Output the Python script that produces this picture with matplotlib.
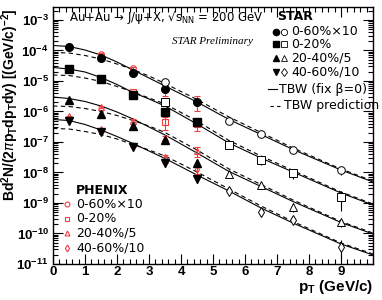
"""J/psi spectra in Au+Au at 200 GeV: STAR and PHENIX vs TBW fits."""

import matplotlib
matplotlib.use("Agg")
import matplotlib.pyplot as plt
import numpy as np
from matplotlib.ticker import MultipleLocator, LogLocator, NullFormatter

plt.rcParams["mathtext.fontset"] = "custom"
plt.rcParams["mathtext.rm"] = "Liberation Sans:bold"
plt.rcParams["mathtext.bf"] = "Liberation Sans:bold"
plt.rcParams["mathtext.sf"] = "DejaVu Sans"

# STAR low pT (filled markers)
pt_low = [0.5, 1.5, 2.5, 3.5, 4.5]
star_low = {
    "c": [1.33e-4, 5.5e-5, 1.87e-5, 5.6e-6, 2.1e-6],
    "s": [2.4e-5, 1.15e-5, 3.5e-6, 9.8e-7, 4.4e-7],
    "t": [2.4e-6, 8.3e-7, 3.3e-7, 1.17e-7, 2.1e-8],
    "v": [4.7e-7, 2.1e-7, 7.1e-8, 2.1e-8, 6.0e-9],
}
star_low_err = {
    "c": [0.08, 0.08, 0.1, 0.15, 0.15],
    "s": [0.08, 0.08, 0.1, 0.15, 0.2],
    "t": [0.1, 0.1, 0.15, 0.2, 0.3],
    "v": [0.1, 0.1, 0.15, 0.3, 0.25],
}

# STAR high pT (open markers)
pt_high_cs = [3.5, 5.5, 6.5, 7.5, 9.0]
pt_high_td = [5.5, 6.5, 7.5, 9.0]
star_high = {
    "c": [9.5e-6, 5.0e-7, 1.8e-7, 5.5e-8, 1.2e-8],
    "s": [2.1e-6, 8.0e-8, 2.6e-8, 9.4e-9, 1.55e-9],
    "t": [8.9e-9, 3.9e-9, 7.6e-10, 2.45e-10],
    "d": [2.5e-9, 5.0e-10, 2.8e-10, 3.7e-11],
}
star_high_err = {
    "c": [0.1, 0.1, 0.1, 0.15, 0.3],
    "s": [0.1, 0.15, 0.3, 0.35, 0.65],
    "t": [0.15, 0.15, 0.35, 0.35],
    "d": [0.15, 0.25, 0.2, 0.6],
}

# PHENIX (red open markers)
pt_phx = [1.5, 2.5, 3.5, 4.5]
pt_phx_d = [0.5, 1.5, 2.5, 3.5, 4.5]
phenix = {
    "c": [7.6e-5, 2.6e-5, 5.0e-6, 2.1e-6],
    "s": [1.3e-5, 4.2e-6, 4.4e-7, 3.9e-7],
    "t": [1.4e-6, 5.0e-7, 1.35e-7, 5.0e-8],
    "d": [6.5e-7, 2.4e-7, 7.6e-8, 2.9e-8, 1.3e-8],
}
phenix_err = {
    "c": [0.1, 0.1, 0.35, 0.5],
    "s": [0.1, 0.1, 0.45, 0.4],
    "t": [0.1, 0.1, 0.2, 0.35],
    "d": [0.1, 0.1, 0.1, 0.3, 0.3],
}

# TBW curves, log10 values
pt_curve = [0, 0.5, 1, 1.5, 2, 2.5, 3, 3.5, 4.5, 5.5, 6.5, 7.5, 9, 10]
tbw_fix_log = {
    "c": [-3.836, -3.869, -3.984, -4.148, -4.377, -4.639, -4.902, -5.164,
          -5.689, -6.262, -6.754, -7.246, -7.918, -8.311],
    "s": [-4.557, -4.607, -4.705, -4.885, -5.115, -5.377, -5.590, -5.820,
          -6.410, -7.033, -7.525, -7.984, -8.672, -9.066],
    "t": [-5.525, -5.574, -5.672, -5.820, -6.016, -6.246, -6.508, -6.770,
          -7.361, -7.967, -8.459, -8.951, -9.639, -10.016],
    "d": [-6.262, -6.295, -6.426, -6.607, -6.820, -7.049, -7.295, -7.541,
          -8.082, -8.607, -9.164, -9.656, -10.344, -10.705],
}
tbw_pred_log = {
    "c": [-4.066, -4.082, -4.164, -4.279, -4.443, -4.623, -4.836, -5.082,
          -5.607, -6.180, -6.689, -7.197, -7.885, -8.279],
    "s": [-4.803, -4.820, -4.902, -5.016, -5.180, -5.361, -5.557, -5.754,
          -6.311, -6.951, -7.459, -7.934, -8.639, -9.033],
    "t": [-5.820, -5.836, -5.902, -6.000, -6.131, -6.295, -6.475, -6.689,
          -7.262, -7.885, -8.393, -8.902, -9.607, -9.984],
    "d": [-6.557, -6.574, -6.656, -6.754, -6.902, -7.082, -7.262, -7.459,
          -7.984, -8.541, -9.098, -9.607, -10.311, -10.672],
}

labels = ["0-60%×10", "0-20%", "20-40%/5", "40-60%/10"]
RED = "#f03c3c"

fig = plt.figure(figsize=(3.82, 3.0), dpi=100)
ax = fig.add_axes([53 / 382, 36 / 300, 320 / 382, 257.5 / 300])
ax.set_yscale("log")

# model curves
for k in ["c", "s", "t", "d"]:
    ax.plot(pt_curve, 10 ** np.array(tbw_fix_log[k]), color="black",
            lw=0.8, zorder=2)
    ax.plot(pt_curve, 10 ** np.array(tbw_pred_log[k]), color="black",
            lw=0.8, ls=(0, (4, 3)), zorder=2)


def errbar(x, y, rel, **kw):
    y = np.array(y)
    e = y * np.array(rel)
    ax.errorbar(x, y, yerr=e, lw=0.8, **kw)


# PHENIX
phx_mk = {"c": "o", "s": "s", "t": "^", "d": "d"}
for k, x in zip(["c", "s", "t", "d"], [pt_phx, pt_phx, pt_phx, pt_phx_d]):
    errbar(x, phenix[k], phenix_err[k], fmt=phx_mk[k], ms=4,
           mfc="none", mec=RED, mew=0.8, ecolor=RED, capsize=2,
           zorder=3)

# STAR filled
low_mk = {"c": "o", "s": "s", "t": "^", "v": "v"}
for k in ["c", "s", "t", "v"]:
    errbar(pt_low, star_low[k], star_low_err[k], fmt=low_mk[k], ms=5.5,
           color="black", ecolor="black", capsize=0, zorder=4)

# STAR open
high_mk = {"c": "o", "s": "s", "t": "^", "d": "d"}
for k, x in zip(["c", "s", "t", "d"],
                [pt_high_cs, pt_high_cs, pt_high_td, pt_high_td]):
    errbar(x, star_high[k], star_high_err[k], fmt=high_mk[k], ms=5.5,
           mfc="white", mec="black", mew=0.7, ecolor="black", capsize=0,
           zorder=4)

ax.set_xlim(0, 10)
ax.set_ylim(1e-11, 2.77e-3)
ax.xaxis.set_minor_locator(MultipleLocator(0.2))
ax.yaxis.set_minor_locator(LogLocator(base=10, subs=np.arange(2, 10),
                                      numticks=20))
ax.yaxis.set_minor_formatter(NullFormatter())
ax.set_xticks(range(10))
ax.set_xticklabels([str(i) for i in range(10)])
yt = [10.0 ** e for e in range(-11, -2)]
ax.set_yticks(yt)
ax.set_yticklabels([r"$\mathbf{10^{%d}}$" % e for e in range(-11, -2)])
ax.tick_params(which="both", direction="in", top=True, right=True,
               width=0.8)
ax.tick_params(which="major", length=7, labelsize=9.5)
ax.tick_params(axis="x", which="major", pad=1.5)
ax.tick_params(axis="y", which="major", pad=3)
ax.tick_params(which="minor", length=3.5)
for lab in ax.get_xticklabels():
    lab.set_fontfamily("Liberation Sans")
    lab.set_fontweight("bold")
for sp in ax.spines.values():
    sp.set_linewidth(1.0)

ax.text(1.0, -0.09, r"p$_\mathrm{T}$ (GeV/c)", transform=ax.transAxes,
        ha="right", va="center", fontsize=11, fontweight="bold",
        family="Liberation Sans")
fig.text(10 / 382, 1 - 105 / 300,
         r"Bd$^\mathrm{2}$N/(2$\pi$p$_\mathrm{T}$dp$_\mathrm{T}$dy) "
         r"[(GeV/c)$^\mathrm{-2}$]",
         rotation=90, ha="center", va="center", fontsize=10,
         fontweight="bold", family="Liberation Sans")


def fx(px):
    return (px - 53) / 320


def fy(py):
    return (264 - py) / 257.5


tr = ax.transAxes
ax.text(fx(69), fy(17.5), r"Au+Au → J/ψ+X, √s$_\mathsf{NN}$ = 200 GeV",
        transform=tr, ha="left", va="center", fontsize=8.5,
        family="DejaVu Sans")
ax.text(fx(277), fy(17), "STAR", transform=tr, ha="left", va="center",
        fontsize=9, fontweight="bold", family="DejaVu Sans")
ax.text(fx(172), fy(42), "STAR Preliminary", transform=tr, ha="left",
        va="center", fontsize=8, style="italic", family="Liberation Serif")

# STAR legend
rows = [31.7, 44, 58, 72]
for py, fk, ok, lab in zip(rows, ["o", "s", "^", "v"], ["o", "s", "^", "d"],
                           labels):
    ax.plot([fx(275.5)], [fy(py)], marker=fk, ms=4.5, color="black",
            transform=tr, clip_on=False)
    ax.plot([fx(284)], [fy(py)], marker=ok, ms=4.5, mfc="white",
            mec="black", mew=0.6, transform=tr, clip_on=False)
    ax.text(fx(291), fy(py), lab, transform=tr, ha="left", va="center",
            fontsize=9, family="DejaVu Sans")
ax.plot([fx(268), fx(277)], [fy(89), fy(89)], color="black", lw=0.8,
        transform=tr)
ax.text(fx(279), fy(89), "TBW (fix β=0)", transform=tr, ha="left",
        va="center", fontsize=9, family="DejaVu Sans")
ax.plot([fx(270), fx(282)], [fy(106), fy(106)], color="black", lw=0.8,
        ls=(0, (3, 3)), transform=tr)
ax.text(fx(284), fy(106), "TBW prediction", transform=tr, ha="left",
        va="center", fontsize=9, family="DejaVu Sans")

# PHENIX legend
ax.text(fx(76), fy(190.7), "PHENIX", transform=tr, ha="left", va="center",
        fontsize=9, fontweight="bold", family="DejaVu Sans")
for py, mk, lab in zip([204.3, 219, 233.3, 247.7], ["o", "s", "^", "d"],
                       labels):
    ax.plot([fx(66.7)], [fy(py)], marker=mk, ms=3.5, mfc="none", mec=RED,
            mew=0.8, transform=tr)
    ax.text(fx(76), fy(py), lab, transform=tr, ha="left", va="center",
            fontsize=9, family="DejaVu Sans")

fig.savefig("out.png", dpi=100)
